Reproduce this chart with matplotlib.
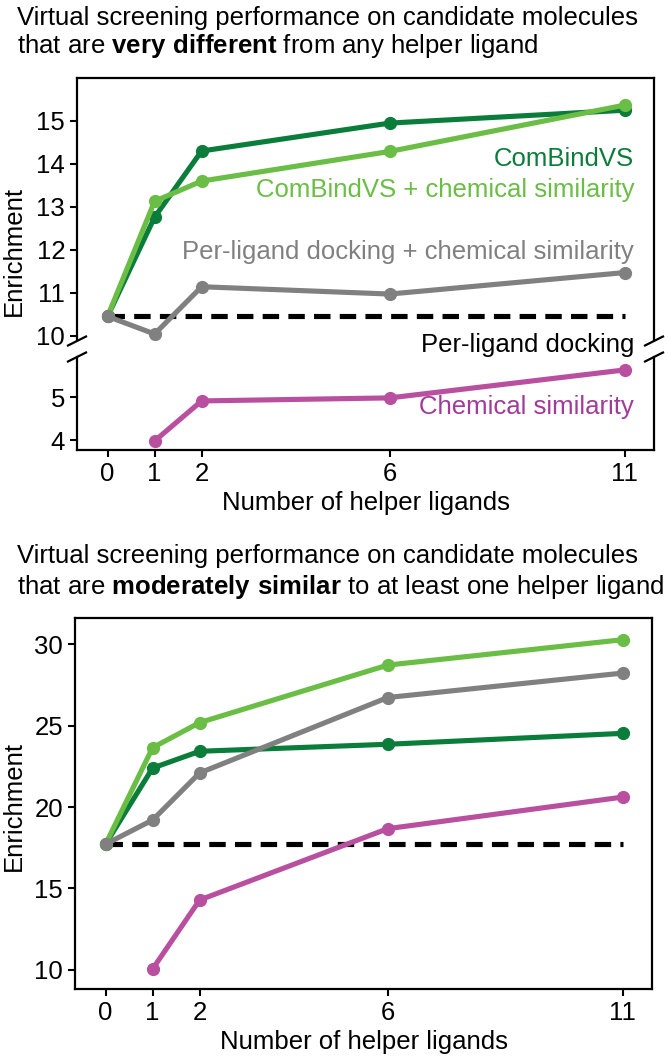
import matplotlib
matplotlib.use("Agg")
import matplotlib.pyplot as plt

plt.rcParams['font.family'] = ['Liberation Sans', 'DejaVu Sans']
plt.rcParams['mathtext.fontset'] = 'custom'
plt.rcParams['mathtext.rm'] = 'Liberation Sans'
plt.rcParams['mathtext.bf'] = 'Liberation Sans:bold'

# data
x_helpers = [0, 1, 2, 6, 11]
x_chem = [1, 2, 6, 11]

top_combind = [10.45, 12.76, 14.30, 14.95, 15.25]
top_combind_chem = [10.45, 13.13, 13.60, 14.29, 15.37]
top_dock_chem = [10.45, 10.04, 11.14, 10.97, 11.47]
top_dock = 10.45
top_chem = [3.98, 4.91, 4.98, 5.63]

bot_combind = [17.72, 22.39, 23.42, 23.85, 24.52]
bot_combind_chem = [17.72, 23.64, 25.18, 28.71, 30.27]
bot_dock_chem = [17.72, 19.20, 22.09, 26.72, 28.22]
bot_dock = 17.72
bot_chem = [10.06, 14.29, 18.67, 20.61]

DARK = '#0b7d3b'
LIGHT = '#6abd45'
GRAY = '#808080'
MAG = '#b8509f'
MAG_TXT = '#a23a99'
FS = 18.5

W, H = 668, 1062
fig = plt.figure(figsize=(W / 100, H / 100), dpi=100)


def rect(l, r, t, b):
    return [l / W, 1 - b / H, (r - l) / W, (b - t) / H]


def style(ax):
    for s in ax.spines.values():
        s.set_linewidth(1.6)
    ax.tick_params(labelsize=FS, width=1.5, length=5, direction='out')
    ax.set_xlim(-0.65, 11.62)


def draw(ax, y, color, z, xs=x_helpers):
    ax.plot(xs, y, color=color, lw=3.7, marker='o', ms=8.5, zorder=z,
            solid_capstyle='round')


def dashed(ax, val):
    ax.plot([0, 11], [val, val], color='black', lw=3.7, dashes=(3.2, 1.8),
            zorder=2)


# ---- top panel (broken axis) ----
ax_up = fig.add_axes(rect(77, 654, 78, 340))
ax_lo = fig.add_axes(rect(77, 654, 357, 450))
for ax in (ax_up, ax_lo):
    style(ax)
ax_up.set_ylim(9.9, 16.0)
ax_lo.set_ylim(3.77, 5.93)
ax_up.set_yticks([10, 11, 12, 13, 14, 15])
ax_lo.set_yticks([4, 5])
ax_up.spines['bottom'].set_visible(False)
ax_lo.spines['top'].set_visible(False)
ax_up.tick_params(bottom=False, labelbottom=False)
ax_lo.set_xticks(x_helpers)

dashed(ax_up, top_dock)
draw(ax_lo, top_chem, MAG, 3, x_chem)
draw(ax_up, top_combind, DARK, 3)
draw(ax_up, top_combind_chem, LIGHT, 4)
draw(ax_up, top_dock_chem, GRAY, 5)

ax_up.text(11.2, 14.12, 'ComBindVS', color=DARK, fontsize=FS, ha='right', va='center')
ax_up.text(11.2, 13.40, 'ComBindVS + chemical similarity', color=LIGHT, fontsize=FS,
           ha='right', va='center')
ax_up.text(11.2, 11.94, 'Per-ligand docking + chemical similarity', color=GRAY,
           fontsize=FS, ha='right', va='center')
ax_lo.text(11.2, 4.77, 'Chemical similarity', color=MAG_TXT, fontsize=FS,
           ha='right', va='center')
fig.text(634 / W, 1 - 345 / H, 'Per-ligand docking', color='black', fontsize=FS,
         ha='right', va='center')

# break marks
dx, dy = 9 / W, 4.5 / H
for xp in (77, 654):
    for yp in (341, 357):
        fig.add_artist(plt.Line2D([xp / W - dx, xp / W + dx],
                                  [1 - yp / H - dy, 1 - yp / H + dy],
                                  color='black', lw=1.6))

ax_lo.set_xlabel('Number of helper ligands', fontsize=FS, labelpad=4)
fig.text(14 / W, 1 - 251 / H, 'Enrichment', rotation=90, fontsize=FS,
         ha='center', va='center')

fig.text(17 / W, 1 - 18 / H, 'Virtual screening performance on candidate molecules',
         fontsize=FS, ha='left', va='center')
fig.text(17 / W, 1 - 46 / H, r'that are $\mathbf{very\ different}$ from any helper ligand',
         fontsize=FS, ha='left', va='center')

# ---- bottom panel ----
ax2 = fig.add_axes(rect(75, 652, 618, 989))
style(ax2)
ax2.set_ylim(8.83, 31.6)
ax2.set_yticks([10, 15, 20, 25, 30])
ax2.set_xticks(x_helpers)

dashed(ax2, bot_dock)
draw(ax2, bot_combind, DARK, 3)
draw(ax2, bot_combind_chem, LIGHT, 4)
draw(ax2, bot_chem, MAG, 5, x_chem)
draw(ax2, bot_dock_chem, GRAY, 6)

ax2.set_xlabel('Number of helper ligands', fontsize=FS, labelpad=4)
fig.text(14 / W, 1 - 806 / H, 'Enrichment', rotation=90, fontsize=FS,
         ha='center', va='center')
fig.text(17 / W, 1 - 556 / H, 'Virtual screening performance on candidate molecules',
         fontsize=FS, ha='left', va='center')
fig.text(17 / W, 1 - 587 / H,
         r'that are $\mathbf{moderately\ similar}$ to at least one helper ligand',
         fontsize=FS, ha='left', va='center')

fig.savefig('out.png', dpi=100)
